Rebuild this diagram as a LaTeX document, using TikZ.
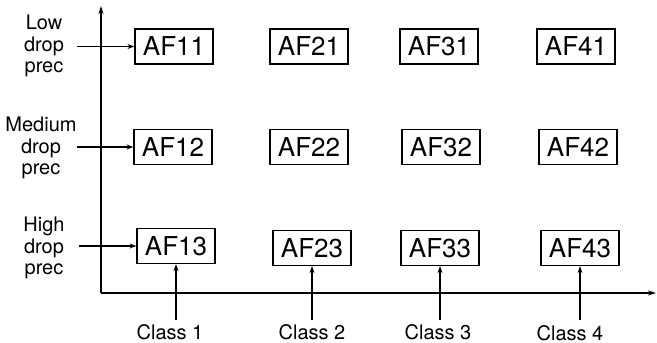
\documentclass[tikz,border=0pt]{standalone}
\usepackage{fontspec}
\setmainfont{TeX Gyre Heros}
\usetikzlibrary{arrows.meta}
\begin{document}
\begin{tikzpicture}[x=1pt,y=-1pt,
  afbox/.style={draw,line width=1.2pt,minimum width=78pt,minimum height=35pt,inner sep=0pt,font=\fontsize{26}{26}\selectfont},
  lbl/.style={align=center,font=\fontsize{20}{21.5}\selectfont,inner sep=0pt},
  conn/.style={line width=1.3pt,-{Stealth[length=7pt,width=5pt]}},
  axis/.style={line width=1.3pt,-{Stealth[length=8pt,width=5pt]}}]
\useasboundingbox (0,0) rectangle (657,343);
% axes
\coordinate (origin) at (101,293);
\coordinate (ytop) at (101,6);
\coordinate (xend) at (656,293);
\draw[axis] (origin) -- (ytop);
\draw[axis] (origin) -- (xend);
% boxes
\node[afbox] (AF11) at (174,46.5) {AF11};
\node[afbox] (AF21) at (309,46.5) {AF21};
\node[afbox] (AF31) at (439,46.5) {AF31};
\node[afbox] (AF41) at (576,46.5) {AF41};
\node[afbox] (AF12) at (173,147) {AF12};
\node[afbox] (AF22) at (309,147) {AF22};
\node[afbox] (AF32) at (441,147) {AF32};
\node[afbox] (AF42) at (578,147) {AF42};
\node[afbox] (AF13) at (176,246) {AF13};
\node[afbox] (AF23) at (312,248) {AF23};
\node[afbox] (AF33) at (440,248) {AF33};
\node[afbox] (AF43) at (580,248) {AF43};
% left labels
\node[lbl] (low) at (44,46) {Low\\drop\\prec};
\node[lbl] (med) at (41,148) {Medium\\drop\\prec};
\node[lbl] (high) at (44,248) {High\\drop\\prec};
\coordinate (s1) at (77,46.5);
\coordinate (s2) at (77,147);
\coordinate (s3) at (79,246);
\draw[conn] (s1) -- (AF11.west);
\draw[conn] (s2) -- (AF12.west);
\draw[conn] (s3) -- (AF13.west);
% class arrows
\coordinate (c1) at (176,320);
\coordinate (c2) at (312,320);
\coordinate (c3) at (440,320);
\coordinate (c4) at (580,320);
\draw[conn] (c1) -- (AF13.south);
\draw[conn] (c2) -- (AF23.south);
\draw[conn] (c3) -- (AF33.south);
\draw[conn] (c4) -- (AF43.south);
\node[lbl,anchor=north] (cl1) at (170,324) {Class 1};
\node[lbl,anchor=north] (cl2) at (312,324) {Class 2};
\node[lbl,anchor=north] (cl3) at (438,324) {Class 3};
\node[lbl,anchor=north] (cl4) at (570,325) {Class 4};
\end{tikzpicture}
\end{document}
